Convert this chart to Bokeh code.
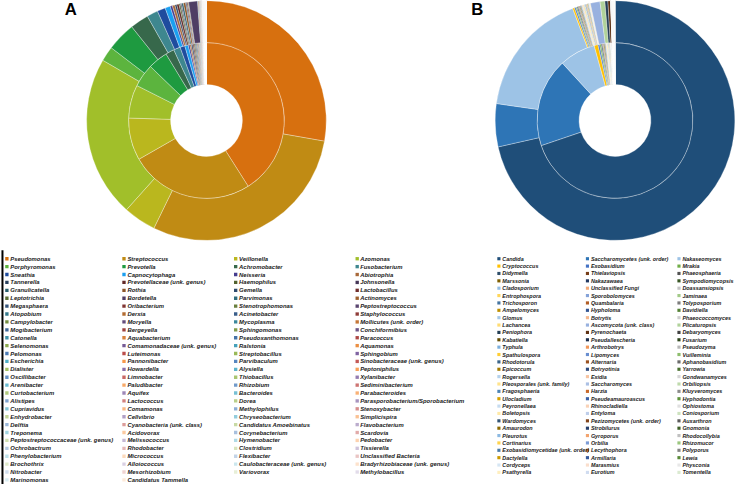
import numpy as np
from bokeh.plotting import figure
from bokeh.models import ColumnDataSource, Range1d
from bokeh.embed import file_html
from bokeh.resources import INLINE
from bokeh.core.properties import value

# ---------------- DATA ----------------
# Panel A: bacterial genera (legend order, row-major, 4 columns)
genera_a = [
    "Pseudomonas", "Streptococcus", "Veillonella", "Azomonas",
    "Porphyromonas", "Prevotella", "Achromobacter", "Fusobacterium",
    "Sneathia", "Capnocytophaga", "Neisseria", "Abiotrophia",
    "Tannerella", "Prevotellaceae (unk. genus)", "Haemophilus", "Johnsonella",
    "Granulicatella", "Rothia", "Gemella", "Lactobacillus",
    "Leptotrichia", "Bordetella", "Parvimonas", "Actinomyces",
    "Megasphaera", "Oribacterium", "Stenotrophomonas", "Peptostreptococcus",
    "Atopobium", "Derxia", "Acinetobacter", "Staphylococcus",
    "Campylobacter", "Moryella", "Mycoplasma", "Mollicutes (unk. order)",
    "Mogibacterium", "Bergeyella", "Sphingomonas", "Conchiformibius",
    "Catonella", "Aquabacterium", "Pseudoxanthomonas", "Paracoccus",
    "Selenomonas", "Comamonadaceae (unk. genus)", "Ralstonia", "Aquamonas",
    "Pelomonas", "Luteimonas", "Streptobacillus", "Sphingobium",
    "Escherichia", "Pannonibacter", "Parvibaculum", "Sinobacteraceae (unk. genus)",
    "Dialister", "Howardella", "Alysiella", "Peptoniphilus",
    "Oscillibacter", "Limnobacter", "Thiobacillus", "Xylanibacter",
    "Arenibacter", "Paludibacter", "Rhizobium", "Sediminibacterium",
    "Curtobacterium", "Aquifex", "Bacteroides", "Parabacteroides",
    "Alistipes", "Lactococcus", "Dorea", "Parasporobacterium/Sporobacterium",
    "Cupriavidus", "Comamonas", "Methylophilus", "Stenoxybacter",
    "Enhydrobacter", "Cellvibrio", "Chryseobacterium", "Simplicispira",
    "Delftia", "Cyanobacteria (unk. class)", "Candidatus Amoebinatus", "Flavobacterium",
    "Treponema", "Acidovorax", "Corynebacterium", "Scardovia",
    "Peptostreptococcaceae (unk. genus)", "Melissococcus", "Hymenobacter", "Pedobacter",
    "Ochrobactrum", "Rhodobacter", "Clostridium", "Tissierella",
    "Phenylobacterium", "Micrococcus", "Flexibacter", "Unclassified Bacteria",
    "Brochothrix", "Alloiococcus", "Caulobacteraceae (unk. genus)", "Bradyrhizobiaceae (unk. genus)",
    "Nitrobacter", "Mesorhizobium", "Variovorax", "Methylobacillus",
    "Marinomonas", "Candidatus Tammella",
]
# relative abundance (%) - inner ring
abund_a_inner = [
    41.0, 25.7, 8.8, 6.9,
    4.8, 4.1, 1.8, 1.4,
    1.0, 0.7, 0.35, 0.30,
    0.30, 0.25, 0.25, 0.20,
    0.20, 0.18, 0.15, 0.12,
    0.12, 0.08, 0.10, 0.10,
    0.08, 0.07, 0.06, 0.06,
    0.05, 0.04, 0.04, 0.03,
    0.03, 0.03, 0.02, 0.02,
    0.02, 0.02, 0.02, 0.02,
    0.02, 0.02, 0.01, 0.01,
    0.01, 0.01, 0.01, 0.01,
    0.01, 0.01, 0.01, 0.01,
    0.01, 0.01, 0.01, 0.005,
    0.01, 0.005, 0.005, 0.01,
    0.005, 0.005, 0.005, 0.005,
    0.005, 0.005, 0.005, 0.005,
    0.005, 0.005, 0.005, 0.005,
    0.005, 0.005, 0.005, 0.005,
    0.005, 0.005, 0.005, 0.005,
    0.005, 0.005, 0.005, 0.005,
    0.005, 0.005, 0.005, 0.005,
    0.005, 0.005, 0.005, 0.005,
    0.005, 0.005, 0.005, 0.005,
    0.005, 0.005, 0.005, 0.005,
    0.005, 0.005, 0.005, 0.005,
    0.005, 0.005, 0.005, 0.005,
    0.005, 0.005, 0.005, 0.005,
    0.005, 0.005,
]
# relative abundance (%) - outer ring
abund_a_outer = [
    27.7, 29.4, 4.4, 21.7,
    2.0, 3.9, 2.5, 1.5,
    1.1, 0.7, 0.30, 0.35,
    0.25, 0.30, 0.20, 0.15,
    0.25, 0.30, 0.15, 0.15,
    0.10, 1.20, 0.08, 0.10,
    0.06, 0.05, 0.05, 0.04,
    0.04, 0.04, 0.03, 0.03,
    0.03, 0.03, 0.02, 0.02,
    0.01, 0.01, 0.01, 0.01,
    0.01, 0.01, 0.01, 0.01,
    0.01, 0.01, 0.01, 0.01,
    0.01, 0.01, 0.01, 0.01,
    0.01, 0.01, 0.01, 0.01,
    0.01, 0.01, 0.01, 0.01,
    0.006, 0.006, 0.006, 0.006,
    0.006, 0.006, 0.006, 0.006,
    0.006, 0.006, 0.006, 0.006,
    0.006, 0.006, 0.006, 0.006,
    0.006, 0.006, 0.006, 0.006,
    0.006, 0.006, 0.006, 0.006,
    0.006, 0.006, 0.006, 0.006,
    0.006, 0.006, 0.006, 0.006,
    0.006, 0.006, 0.006, 0.006,
    0.006, 0.006, 0.006, 0.006,
    0.006, 0.006, 0.006, 0.006,
    0.006, 0.006, 0.006, 0.006,
    0.006, 0.006, 0.006, 0.006,
    0.006, 0.006,
]

# Panel B: fungal genera (legend order, row-major, 3 columns)
genera_b = [
    "Candida", "Saccharomycetes (unk. order)", "Nakaseomyces",
    "Cryptococcus", "Exobasidium", "Mrakia",
    "Didymella", "Thielaviopsis", "Phaeosphaeria",
    "Marssonia", "Nakazawaea", "Sympodiomycopsis",
    "Cladosporium", "Unclassified Fungi", "Doassansiopsis",
    "Entrophospora", "Sporobolomyces", "Jaminaea",
    "Trichosporon", "Quambalaria", "Tolyposporium",
    "Ampelomyces", "Hypholoma", "Davidiella",
    "Glomus", "Botrytis", "Phaeococcomyces",
    "Lachancea", "Ascomycota (unk. class)", "Plicaturopsis",
    "Peniophora", "Pyrenochaeta", "Debaryomyces",
    "Kabatiella", "Pseudallescheria", "Fusarium",
    "Typhula", "Arthrobotrys", "Pseudozyma",
    "Spathulospora", "Lipomyces", "Vuilleminia",
    "Rhodotorula", "Alternaria", "Aphanobasidium",
    "Epicoccum", "Botryotinia", "Yarrowia",
    "Rogersella", "Exidia", "Gondwanamyces",
    "Pleosporales (unk. family)", "Saccharomyces", "Orbiliopsis",
    "Fragosphaeria", "Harzia", "Kluyveromyces",
    "Ulocladium", "Pseudeamauroascus", "Hyphodontia",
    "Peyronellaea", "Rhinocladiella", "Ophiostoma",
    "Boletopsis", "Entyloma", "Coniosporium",
    "Wardomyces", "Pezizomycetes (unk. order)", "Auxarthron",
    "Amaurodon", "Strobilurus", "Gnomonia",
    "Pleurotus", "Gyroporus", "Rhodocollybia",
    "Cortinarius", "Orbilia", "Rhizomucor",
    "Exobasidiomycetidae (unk. order)", "Lecythophora", "Polyporus",
    "Dactylella", "Armillaria", "Lewia",
    "Cordyceps", "Marasmius", "Physconia",
    "Psathyrella", "Eurotium", "Tomentella",
]
abund_b_inner = [
    69.8, 18.4, 7.5,
    0.8, 0.35, 0.30,
    0.25, 0.15, 0.10,
    0.20, 0.15, 0.10,
    0.12, 0.08, 0.06,
    0.15, 0.08, 0.10,
    0.10, 0.06, 0.05,
    0.08, 0.06, 0.05,
    0.05, 0.04, 0.03,
    0.04, 0.05, 0.03,
    0.03, 0.03, 0.02,
    0.03, 0.02, 0.02,
    0.01, 0.01, 0.01,
    0.01, 0.01, 0.01,
    0.01, 0.01, 0.01,
    0.01, 0.01, 0.01,
    0.01, 0.01, 0.01,
    0.01, 0.01, 0.01,
    0.01, 0.01, 0.01,
    0.01, 0.01, 0.01,
    0.01, 0.01, 0.01,
    0.01, 0.01, 0.01,
    0.01, 0.01, 0.01,
    0.01, 0.01, 0.01,
    0.01, 0.01, 0.01,
    0.01, 0.01, 0.01,
    0.01, 0.01, 0.01,
    0.01, 0.01, 0.01,
    0.01, 0.01, 0.01,
    0.01, 0.01, 0.01,
]
abund_b_outer = [
    71.5, 5.8, 17.0,
    0.25, 0.20, 0.15,
    0.15, 0.10, 0.08,
    0.12, 0.10, 0.08,
    0.10, 0.08, 0.06,
    0.12, 0.08, 0.08,
    0.10, 0.08, 0.06,
    0.10, 0.08, 0.06,
    0.06, 0.05, 0.05,
    0.06, 1.30, 0.65,
    0.40, 0.35, 0.03,
    0.01, 0.01, 0.01,
    0.01, 0.01, 0.01,
    0.01, 0.01, 0.01,
    0.01, 0.01, 0.01,
    0.01, 0.01, 0.01,
    0.01, 0.01, 0.01,
    0.01, 0.01, 0.01,
    0.01, 0.01, 0.01,
    0.01, 0.01, 0.01,
    0.01, 0.01, 0.01,
    0.01, 0.01, 0.01,
    0.01, 0.01, 0.01,
    0.01, 0.01, 0.01,
    0.01, 0.01, 0.01,
    0.01, 0.01, 0.01,
    0.01, 0.01, 0.01,
    0.01, 0.01, 0.01,
    0.01, 0.01, 0.01,
    0.01, 0.01, 0.01,
]

# ---------------- STYLES ----------------
def shade(hexc, t):
    r, g, b = (int(hexc[i:i + 2], 16) for i in (1, 3, 5))
    if t < 0:
        f = 1 + t
        r, g, b = r * f, g * f, b * f
    else:
        r, g, b = r + (255 - r) * t, g + (255 - g) * t, b + (255 - b) * t
    return "#%02x%02x%02x" % (int(round(r)), int(round(g)), int(round(b)))

top_a = ["#d7700f", "#c08b14", "#bab71e", "#a1bf2a", "#5cb43e", "#1e9a40",
         "#37684b", "#3e878f", "#1f4c9e", "#1b9ff0", "#453c8e", "#a8693a"]
acc07 = ["#4f81bd", "#c0504d", "#9bbb59", "#8064a2", "#4bacc6", "#f79646"]
n_a = len(genera_a)
colors_a = top_a + [shade(acc07[(i - 12) % 6], -0.5 + 1.3 * (i - 12) / (n_a - 13))
                    for i in range(12, n_a)]

acc13 = ["#5b9bd5", "#ed7d31", "#a5a5a5", "#ffc000", "#4472c4", "#70ad47"]
var13 = [0, -0.5, 0.35, -0.25, 0.45, -0.6, 0.2, -0.35, 0.55, -0.15, 0.65, -0.45, 0.3, -0.2, 0.75]
colors_b = [shade(acc13[i % 6], var13[i // 6]) for i in range(len(genera_b))]
colors_b[0:3] = ["#1f4e79", "#2e75b6", "#9dc3e6"]

# ---------------- FIGURE ----------------
S = 0.984
p = figure(width=738, height=484, x_range=Range1d(2, 752), y_range=Range1d(4, 496),
           output_backend="svg", toolbar_location=None,
           x_axis_location=None, y_axis_location=None, min_border=0,
           outline_line_color=None, background_fill_color="white")
p.xgrid.visible = False
p.ygrid.visible = False

def Y(yref):
    return 500 - np.asarray(yref, dtype=float)

def ring(vals, cx, cy, r0, r1, colors, names):
    v = np.asarray(vals, dtype=float)
    cum = np.concatenate([[0.0], np.cumsum(v / v.sum())])
    src = ColumnDataSource(dict(start=np.pi / 2 - cum[:-1] * 2 * np.pi,
                                end=np.pi / 2 - cum[1:] * 2 * np.pi,
                                color=colors, name=names, value=v))
    p.annular_wedge(x=cx, y=cy, inner_radius=r0, outer_radius=r1,
                    start_angle="start", end_angle="end", direction="clock",
                    fill_color="color", line_color="white", line_width=0.4,
                    line_alpha=0.8, source=src)

R_HOLE, R_MID, R_OUT = 36.5, 79.2, 121.8
ring(abund_a_inner, 211.3, Y(126), R_HOLE, R_MID, colors_a, genera_a)
ring(abund_a_outer, 211.3, Y(126), R_MID, R_OUT, colors_a, genera_a)
ring(abund_b_inner, 626.5, Y(126), R_HOLE, R_MID, colors_b, genera_b)
ring(abund_b_outer, 626.5, Y(126), R_MID, R_OUT, colors_b, genera_b)

# panel letters
p.text(x=[73.5, 486.5], y=Y([13.5, 13.5]), text=["A", "B"],
       text_font=value("Liberation Sans"), text_font_style="bold",
       text_font_size="%.1fpx" % (17 * S), text_align="center",
       text_baseline="middle", text_color="black")

# legend A
sq_x_a = [8.5, 127.5, 241.0, 364.5]
tx_x_a = [12.0, 131.0, 244.5, 367.5]
la = dict(sx=[], tx=[], y=[], name=genera_a, color=colors_a)
for i in range(n_a):
    r, c = divmod(i, 4)
    la["sx"].append(sq_x_a[c])
    la["tx"].append(tx_x_a[c])
    la["y"].append(500 - (266.5 + r * 8.03))
src_la = ColumnDataSource(la)
p.rect(x="sx", y="y", width=3.4, height=3.4, fill_color="color", line_color=None, source=src_la)
p.text(x="tx", y="y", text="name", text_font=value("Liberation Sans"),
       text_font_style="bold italic", text_font_size="%.2fpx" % (6.0 * S),
       text_baseline="middle", text_color="#1a1a1a", source=src_la)
p.segment(x0=[4.0], y0=Y([258]), x1=[4.0], y1=Y([500]), line_color="black", line_width=2)

# legend B
sq_x_b = [508.5, 598.5, 691.5]
tx_x_b = [512.0, 602.0, 695.0]
lb = dict(sx=[], tx=[], y=[], name=genera_b, color=colors_b)
for i in range(len(genera_b)):
    r, c = divmod(i, 3)
    lb["sx"].append(sq_x_b[c])
    lb["tx"].append(tx_x_b[c])
    lb["y"].append(500 - (266.5 + r * 7.49))
src_lb = ColumnDataSource(lb)
p.rect(x="sx", y="y", width=3.2, height=3.2, fill_color="color", line_color=None, source=src_lb)
p.text(x="tx", y="y", text="name", text_font=value("Liberation Sans"),
       text_font_style="bold italic", text_font_size="%.2fpx" % (5.5 * S),
       text_baseline="middle", text_color="#1a1a1a", source=src_lb)

open("out.html", "w").write(file_html(p, INLINE))
